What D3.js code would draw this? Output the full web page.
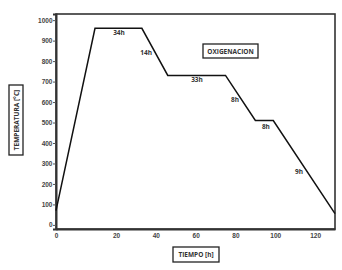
<!DOCTYPE html>
<html lang="es">
<head>
<meta charset="UTF-8">
<title>Oxigenacion</title>
<script src="https://d3js.org/d3.v7.min.js"></script>
<style>
  body { margin: 0; background: #fff; }
  svg { font-family: "Open Sans", "Liberation Sans", sans-serif; font-weight: bold; }
  .tick text { fill: #444; font-size: 6.5px; }
  .lbl { fill: #333; font-size: 6.5px; }
</style>
</head>
<body>
<svg width="342" height="270"></svg>
<script>
// profile
const hours = [0, 13, 33, 46, 75, 90, 99, 130];
const temps = [70, 960, 960, 730, 730, 510, 510, 55];

// segment annotations
const segText = ["34h", "14h", "33h", "8h", "8h", "9h"];
const segHour = [21.5, 35.1, 60.7, 79.8, 95.3, 111.9];
const segTemp = [937, 840, 708, 610, 478, 258];

const xTicks = [0, 20, 40, 60, 80, 100, 120];
const yTicks = d3.range(0, 1001, 100);

const svg = d3.select("svg");

// x axis in the source is not evenly spaced near zero
const x = d3.scaleLinear().domain([0, 20, 130]).range([56, 116, 335]);
const y = d3.scaleLinear().domain([-20, 1030]).range([229, 14]);

// frame
svg.append("rect")
  .attr("x", 56).attr("y", 14)
  .attr("width", 335 - 56).attr("height", 229 - 14)
  .attr("fill", "none").attr("stroke", "#333").attr("stroke-width", 1.6);

svg.append("g")
  .attr("transform", "translate(0,229)")
  .call(d3.axisBottom(x).tickValues(xTicks).tickSize(0).tickPadding(4).tickFormat(d3.format("d")))
  .call(g => g.select(".domain").attr("stroke", "#333").attr("stroke-width", 2));

svg.append("g")
  .attr("transform", "translate(56,0)")
  .call(d3.axisLeft(y).tickValues(yTicks).tickSize(3).tickPadding(0.5).tickFormat(d3.format("d")))
  .call(g => g.select(".domain").attr("stroke", "#333").attr("stroke-width", 2))
  .call(g => g.selectAll(".tick line").attr("stroke", "#555"));

// temperature line
const pts = hours.map((h, i) => [h, temps[i]]);
svg.append("path")
  .datum(pts)
  .attr("fill", "none")
  .attr("stroke", "#111")
  .attr("stroke-width", 1.5)
  .attr("d", d3.line().x(d => x(d[0])).y(d => y(d[1])));

segText.forEach((t, i) => {
  svg.append("text")
    .attr("class", "lbl")
    .attr("x", x(segHour[i]))
    .attr("y", y(segTemp[i]))
    .attr("text-anchor", "middle")
    .attr("dominant-baseline", "middle")
    .text(t);
});

// boxed labels
function boxLabel(cx, cy, w, h, text, rotate) {
  const g = svg.append("g")
    .attr("transform", `translate(${cx},${cy})` + (rotate ? " rotate(-90)" : ""));
  g.append("rect")
    .attr("x", -w / 2).attr("y", -h / 2)
    .attr("width", w).attr("height", h)
    .attr("fill", "#fff").attr("stroke", "#222").attr("stroke-width", 1.3);
  g.append("text")
    .attr("class", "lbl")
    .attr("text-anchor", "middle")
    .attr("dominant-baseline", "central")
    .text(text);
}

boxLabel(230.5, 51, 55, 14, "OXIGENACION", false);
boxLabel(196, 254.5, 46, 15, "TIEMPO [h]", false);
boxLabel(16, 120, 70, 14, "TEMPERATURA [°C]", true);
</script>
</body>
</html>
